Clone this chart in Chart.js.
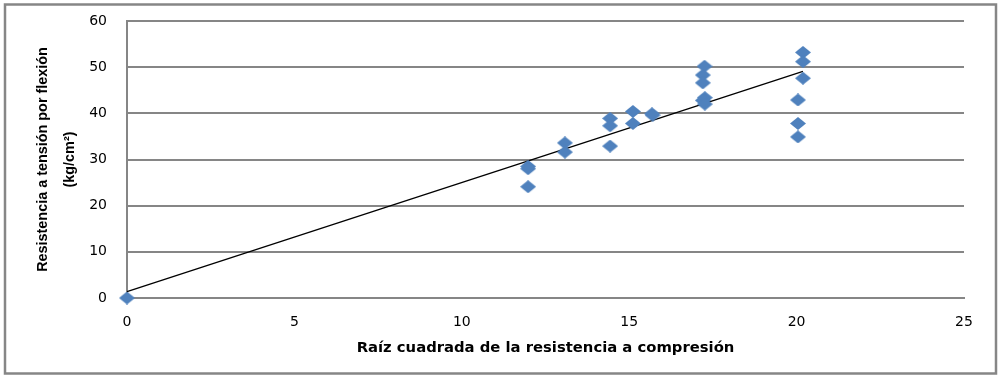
<!DOCTYPE html>
<html>
<head>
<meta charset="utf-8">
<script src="https://cdn.jsdelivr.net/npm/chart.js@4/dist/chart.umd.min.js"></script>
<style>
  html, body { margin: 0; padding: 0; background: #ffffff; }
  #wrap { width: 1004px; height: 380px; position: relative; }
</style>
</head>
<body>
<div id="wrap"><canvas id="c" width="1004" height="380"></canvas></div>
<script>
// ---- data ----
const xValues = [0, 11.98, 11.98, 11.98, 13.08, 13.08, 14.43, 14.43, 14.43, 15.11, 15.11, 15.68, 15.7, 17.25, 17.2, 17.2, 17.26, 17.2, 17.26, 20.04, 20.04, 20.04, 20.19, 20.19, 20.19];
const yValues = [0, 28.5, 28.0, 24.1, 33.6, 31.6, 38.9, 37.3, 32.9, 40.4, 37.8, 39.9, 39.6, 50.2, 48.3, 46.6, 43.4, 42.8, 42.0, 42.9, 37.8, 34.9, 53.2, 51.2, 47.6];
const trendX = [0, 20.19];
const trendY = [1.4, 49.1];
const xTicks = [0, 5, 10, 15, 20, 25];
const yTicks = [0, 10, 20, 30, 40, 50, 60];
const xTitle = 'Raíz cuadrada de la resistencia a compresión';
const yTitle = ['Resistencia a tensión por flexión', '(kg/cm²)'];

// diamond marker (slightly wider than tall, like the reference)
function makeDiamond(w, h, color) {
  const c = document.createElement('canvas');
  c.width = w; c.height = h;
  const g = c.getContext('2d');
  g.fillStyle = color;
  g.beginPath();
  g.moveTo(w / 2, 0);
  g.lineTo(w, h / 2);
  g.lineTo(w / 2, h);
  g.lineTo(0, h / 2);
  g.closePath();
  g.fill();
  return c;
}
const diamond = makeDiamond(16, 13, '#4F81BD');

const points = xValues.map((x, i) => ({ x: x, y: yValues[i] }));
const trend = trendX.map((x, i) => ({ x: x, y: trendY[i] }));

const frame = {
  id: 'frame',
  afterDraw(chart) {
    const ctx = chart.ctx;
    ctx.save();
    ctx.strokeStyle = '#868686';
    ctx.lineWidth = 2.5;
    ctx.strokeRect(5, 4.5, 991, 369);
    ctx.restore();
  }
};

const GRID = '#868686';

new Chart(document.getElementById('c'), {
  type: 'scatter',
  data: {
    datasets: [
      {
        label: 'trend',
        data: trend,
        showLine: true,
        borderColor: '#000000',
        borderWidth: 1.3,
        pointRadius: 0,
        pointHoverRadius: 0,
        clip: false,
        order: 2
      },
      {
        label: 'datos',
        data: points,
        pointStyle: diamond,
        backgroundColor: '#4F81BD',
        borderColor: '#4F81BD',
        clip: false,
        order: 1
      }
    ]
  },
  options: {
    responsive: false,
    animation: false,
    devicePixelRatio: 1,
    layout: { padding: { top: 21, right: 40, left: 0, bottom: 0 } },
    plugins: {
      legend: { display: false },
      tooltip: { enabled: false }
    },
    scales: {
      x: {
        type: 'linear',
        min: 0, max: 25,
        afterBuildTicks: (s) => { s.ticks = xTicks.map(v => ({ value: v })); },
        afterFit: (s) => { s.height = 82; s.paddingLeft = 0; s.paddingRight = 0; },
        grid: { display: false, drawTicks: false },
        border: { display: true, color: GRID, width: 2 },
        ticks: {
          color: '#000000',
          padding: 16,
          font: { family: 'DejaVu Sans', size: 14 }
        },
        title: {
          display: true,
          text: xTitle,
          color: '#000000',
          padding: { top: 0, bottom: 23 },
          font: { family: 'DejaVu Sans', size: 14.8, weight: 'bold', lineHeight: 1.2 }
        }
      },
      y: {
        type: 'linear',
        min: 0, max: 60,
        afterBuildTicks: (s) => { s.ticks = yTicks.map(v => ({ value: v })); },
        afterFit: (s) => { s.width = 127; s.paddingTop = 0; s.paddingBottom = 0; },
        grid: { display: true, color: GRID, lineWidth: 2, drawTicks: false },
        border: { display: true, color: GRID, width: 2 },
        ticks: {
          color: '#000000',
          padding: 20,
          font: { family: 'DejaVu Sans', size: 14 }
        },
        title: {
          display: true,
          text: yTitle,
          color: '#000000',
          padding: { top: 30, bottom: 0 },
          font: { family: "'Liberation Sans'", size: 14.4, weight: 'bold', lineHeight: 1.85 }
        }
      }
    }
  },
  plugins: [frame]
});
</script>
</body>
</html>
